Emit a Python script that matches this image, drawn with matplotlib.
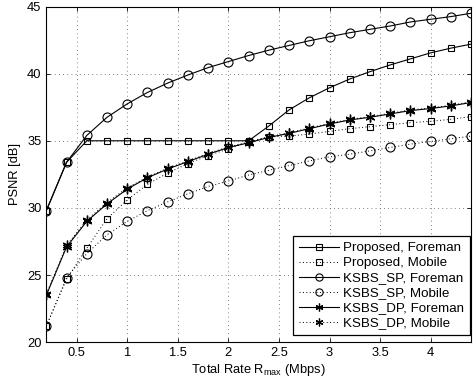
import numpy as np
import matplotlib
matplotlib.use("Agg")
import matplotlib.pyplot as plt

plt.rcParams["font.family"] = ["Liberation Sans", "DejaVu Sans"]
plt.rcParams["mathtext.fontset"] = "custom"
plt.rcParams["mathtext.rm"] = "Liberation Sans"
plt.rcParams["mathtext.it"] = "Liberation Sans"

rate = [0.2, 0.4, 0.6, 0.8, 1.0, 1.2, 1.4, 1.6, 1.8, 2.0, 2.2,
        2.4, 2.6, 2.8, 3.0, 3.2, 3.4, 3.6, 3.8, 4.0, 4.2, 4.4]

prop_foreman = [29.8, 33.4, 35.0, 35.0, 35.0, 35.0, 35.0, 35.0, 35.0, 35.0, 35.0,
                36.1, 37.3, 38.2, 38.95, 39.6, 40.15, 40.65, 41.1, 41.55, 41.9, 42.2]
prop_mobile = [21.2, 24.7, 27.0, 29.2, 30.6, 31.75, 32.6, 33.3, 33.9, 34.4, 34.9,
               35.3, 35.35, 35.5, 35.7, 35.9, 36.05, 36.2, 36.35, 36.45, 36.6, 36.8]
sp_foreman = [29.8, 33.4, 35.4, 36.75, 37.75, 38.6, 39.3, 39.9, 40.45, 40.9, 41.35,
              41.75, 42.1, 42.45, 42.75, 43.05, 43.3, 43.55, 43.85, 44.05, 44.25, 44.5]
sp_mobile = [21.2, 24.8, 26.6, 28.0, 29.0, 29.8, 30.45, 31.05, 31.6, 32.0, 32.45,
             32.8, 33.15, 33.5, 33.8, 34.0, 34.25, 34.5, 34.75, 34.95, 35.15, 35.35]
dp_foreman = [23.5, 27.1, 29.0, 30.3, 31.4, 32.25, 32.9, 33.45, 34.0, 34.5, 34.85,
              35.25, 35.55, 35.9, 36.25, 36.55, 36.75, 37.0, 37.25, 37.4, 37.6, 37.85]
dp_mobile = [23.6, 27.2, 29.1, 30.4, 31.5, 32.3, 32.95, 33.5, 34.05, 34.55, 34.9,
             35.3, 35.6, 35.95, 36.3, 36.6, 36.8, 37.05, 37.3, 37.45, 37.65, 37.9]

fig = plt.figure(figsize=(4.73, 3.84), dpi=100)
ax = fig.add_axes([0.098, 0.109, 0.898, 0.874])

lw = 0.8
dots = (0, (1, 2.5))
star = (6, 2, 0)   # matlab-like asterisk
ax.plot(rate, prop_foreman, "-", color="k", lw=lw, marker="s", ms=5, mfc="none", mew=0.8,
        label="Proposed, Foreman")
ax.plot(rate, prop_mobile, linestyle=dots, color="k", lw=0.7, marker="s", ms=5,
        mfc="none", mew=0.8, label="Proposed, Mobile")
ax.plot(rate, sp_foreman, "-", color="k", lw=lw, marker="o", ms=6.5, mfc="none", mew=0.8,
        label="KSBS_SP, Foreman")
ax.plot(rate, sp_mobile, linestyle=dots, color="k", lw=0.7, marker="o", ms=6.5,
        mfc="none", mew=0.8, label="KSBS_SP, Mobile")
ax.plot(rate, dp_foreman, "-", color="k", lw=lw, marker=star, ms=7, mew=0.9,
        label="KSBS_DP, Foreman")
ax.plot(rate, dp_mobile, linestyle=dots, color="k", lw=0.7, marker=star, ms=7,
        mew=0.9, label="KSBS_DP, Mobile")

ax.set_xlim(0.2, 4.4)
ax.set_ylim(20, 45)
ax.set_xticks([0.5, 1, 1.5, 2, 2.5, 3, 3.5, 4])
ax.set_xticklabels(["0.5", "1", "1.5", "2", "2.5", "3", "3.5", "4"])
ax.set_yticks([20, 25, 30, 35, 40, 45])
ax.tick_params(direction="in", top=True, right=True, labelsize=9.3, length=3, width=0.6)
ax.grid(True, linestyle=(0, (1, 4)), color="0.35", linewidth=0.6)
for s in ax.spines.values():
    s.set_linewidth(0.8)

ax.set_xlabel("Total Rate R$_{\\mathregular{max}}$ (Mbps)", fontsize=9.3, labelpad=2)
ax.set_ylabel("PSNR [dB]", fontsize=9.3, labelpad=4)

leg = ax.legend(loc="lower right", bbox_to_anchor=(0.998, 0.02), borderaxespad=0,
                fontsize=9.6, handlelength=3.0, labelspacing=0.2, handletextpad=0.35,
                borderpad=0.45, fancybox=False, framealpha=1, edgecolor="k",
                markerscale=0.8)
leg.get_frame().set_linewidth(0.9)

fig.savefig("out.png", dpi=100)
